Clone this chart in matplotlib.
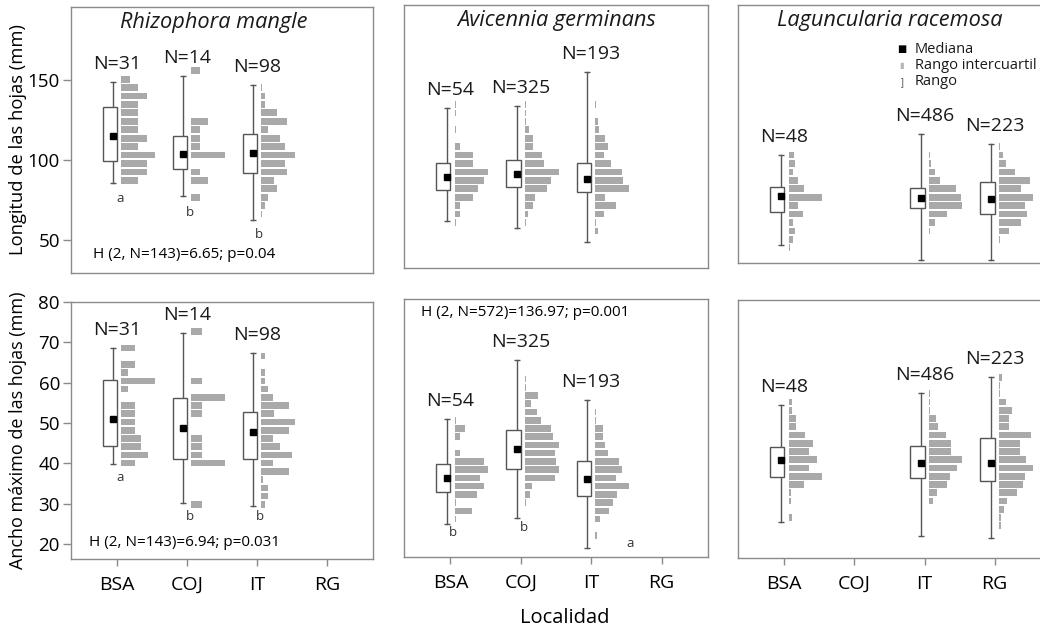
import matplotlib.pyplot as plt
from matplotlib.patches import Rectangle

plt.rcParams['font.family'] = ['Open Sans', 'DejaVu Sans']

localidades = ['BSA', 'COJ', 'IT', 'RG']

# cajas: [mínimo, Q1, mediana, Q3, máximo]; frecuencias en % del bin mayor,
# bins ordenados de arriba hacia abajo a partir del centro bin0

# --- Longitud de las hojas (mm) ---
ancho_long = 5.27

rm_long_loc = ['BSA', 'COJ', 'IT']
rm_long_n = [31, 14, 98]
rm_long_letras = ['a', 'b', 'b']
rm_long_bin0 = 155.8
rm_long_cajas = [[85.8, 99.6, 115.0, 132.9, 148.9],
                 [77.5, 94.4, 103.8, 115.2, 152.7],
                 [62.3, 91.7, 104.2, 116.25, 146.9]]
rm_long_frec = [[0, 25, 50, 75, 50, 50, 50, 50, 75, 50, 100, 75, 75, 50],
                [25, 0, 0, 0, 0, 0, 50, 25, 25, 25, 100, 0, 25, 50, 0, 25],
                [0, 0, 3, 10, 10, 48, 77, 19, 56, 71, 100, 71, 77, 38, 48, 19, 10, 3]]

ag_long_loc = ['BSA', 'COJ', 'IT']
ag_long_n = [54, 325, 193]
ag_long_bin0 = 155.8
ag_long_cajas = [[62.0, 81.25, 89.6, 97.9, 132.7],
                 [57.7, 82.9, 91.25, 100.0, 133.75],
                 [49.0, 80.2, 88.0, 97.9, 154.8]]
ag_long_frec = [[0, 0, 0, 0, 3, 3, 0, 3, 0, 15, 55, 55, 100, 87, 68, 55, 15, 15, 3],
                [0, 0, 0, 0, 3, 3, 3, 13, 23, 23, 49, 56, 100, 76, 66, 29, 25, 8, 3],
                [0, 0, 0, 0, 3, 0, 7, 10, 29, 36, 25, 46, 78, 81, 100, 29, 61, 26, 3, 7]]

lr_long_loc = ['BSA', 'IT', 'RG']
lr_long_n = [48, 486, 223]
lr_long_bin0 = 155.8
lr_long_cajas = [[46.9, 67.3, 77.5, 82.9, 103.1],
                 [37.5, 69.8, 76.0, 82.3, 116.25],
                 [37.5, 66.0, 75.6, 86.4, 110.0]]
lr_long_frec = [[0] * 10 + [15, 19, 13, 29, 45, 100, 29, 44, 13, 19, 13, 5],
                [0] * 10 + [3, 7, 17, 34, 80, 97, 100, 55, 19, 3],
                [0] * 9 + [3, 11, 21, 48, 91, 65, 100, 77, 84, 67, 31, 3]]

# --- Ancho máximo de las hojas (mm) ---
ancho_anch = 2.04

rm_anch_loc = ['BSA', 'COJ', 'IT']
rm_anch_n = [31, 14, 98]
rm_anch_letras = ['a', 'b', 'b']
rm_anch_bin0 = 72.7
rm_anch_cajas = [[39.8, 44.3, 50.9, 60.6, 68.6],
                 [30.2, 41.05, 48.8, 56.1, 72.4],
                 [29.5, 41.05, 47.7, 52.8, 67.4]]
rm_anch_frec = [[0, 0, 40, 0, 40, 20, 100, 20, 0, 40, 40, 40, 40, 60, 60, 80, 40],
                [33, 0, 0, 0, 0, 0, 33, 0, 100, 33, 33, 0, 0, 33, 33, 33, 100, 0, 0, 0, 0, 33],
                [0, 0, 0, 12, 0, 10, 10, 20, 35, 83, 37, 100, 83, 35, 55, 92, 35, 83, 5, 20, 20, 12]]

ag_anch_loc = ['BSA', 'COJ', 'IT']
ag_anch_n = [54, 325, 193]
ag_anch_letras = ['b', 'b', 'a']
ag_anch_bin0 = 69.03
ag_anch_cajas = [[25.0, 33.0, 36.4, 39.75, 50.9],
                 [26.4, 38.6, 43.5, 48.2, 65.6],
                 [19.0, 31.9, 36.0, 40.6, 55.7]]
ag_anch_frec = [[0] * 9 + [3, 30, 16, 0, 16, 88, 100, 75, 88, 65, 5, 51, 3],
                [0] * 4 + [3, 3, 37, 18, 35, 48, 77, 82, 100, 88, 92, 100, 90, 20, 15, 3],
                [0] * 8 + [3, 3, 22, 22, 28, 38, 70, 80, 60, 100, 65, 53, 41, 13, 0, 5]]

lr_anch_loc = ['BSA', 'IT', 'RG']
lr_anch_n = [48, 486, 223]
lr_anch_bin0 = 69.45
lr_anch_cajas = [[25.5, 36.7, 40.8, 44.1, 54.4],
                 [22.1, 36.5, 40.15, 44.3, 57.3],
                 [21.6, 35.7, 40.15, 46.3, 61.3]]
lr_anch_frec = [[0] * 7 + [10, 10, 23, 23, 48, 73, 61, 86, 61, 100, 47, 8, 8, 0, 10],
                [0] * 6 + [3, 3, 3, 20, 27, 52, 67, 67, 100, 84, 64, 54, 23, 13],
                [0] * 4 + [10, 3, 3, 20, 39, 30, 30, 96, 62, 62, 80, 100, 77, 72, 55, 23, 16, 5, 5]]

W, H = 1040, 629
fig = plt.figure(figsize=(W / 100, H / 100), dpi=100)
gris = '#8a8a8a'


def eje(x0, y0, x1, y1, ylim):
    ax = fig.add_axes([x0 / W, 1 - y1 / H, (x1 - x0) / W, (y1 - y0) / H])
    ax.set_xlim(-0.66, 3.66)
    ax.set_ylim(*ylim)
    for s in ax.spines.values():
        s.set_color(gris)
        s.set_linewidth(1.0)
    ax.set_xticks([])
    ax.set_yticks([])
    return ax


def dibujar(ax, locs, cajas, frec, bin0, ancho, n):
    for j, loc in enumerate(locs):
        x = localidades.index(loc)
        mn, q1, med, q3, mx = cajas[j]
        f = frec[j]
        ys = [bin0 - k * ancho for k in range(len(f))]
        largos = [v / max(f) * 0.48 for v in f]
        ax.barh(ys, largos, height=ancho * 0.8, left=x + 0.06, color='#a9a9a9', lw=0)
        xb = x - 0.053
        ax.plot([xb, xb], [mn, mx], color='#555555', lw=1.0, zorder=2)
        ax.plot([xb, xb], [mn, mx], ls='none', marker='_', ms=4, mew=1.0, color='#555555', zorder=2)
        ax.add_patch(Rectangle((x - 0.205, q1), 0.205, q3 - q1, fc='white', ec='#555555', lw=1.0, zorder=3))
        ax.plot([xb], [med], marker='s', ms=5, color='black', ls='none', zorder=4)
        ax.annotate(f'N={n[j]}', (x, mx), xytext=(0, 13), textcoords='offset points',
                    ha='center', va='center', fontsize=14, color='#1a1a1a')


def letras(ax, locs, cajas, let, despl):
    for j, loc in enumerate(locs):
        x = localidades.index(loc)
        dx, dy = despl[j]
        ax.annotate(let[j], (x + dx, cajas[j][0]), xytext=(0, dy), textcoords='offset points',
                    ha='center', va='center', fontsize=9.5, color='#333333')


# fila superior: longitud
ax1 = eje(71, 7, 373, 273, (29.4, 195.6))
ax2 = eje(404, 5, 708, 268, (32.5, 196.9))
ax3 = eje(738, 5, 1041, 263, (35.6, 196.9))
# fila inferior: ancho
ax4 = eje(71, 302, 373, 559, (16.3, 79.9))
ax5 = eje(404, 299, 708, 557, (16.8, 80.7))
ax6 = eje(738, 300, 1041, 558, (16.6, 80.4))

dibujar(ax1, rm_long_loc, rm_long_cajas, rm_long_frec, rm_long_bin0, ancho_long, rm_long_n)
dibujar(ax2, ag_long_loc, ag_long_cajas, ag_long_frec, ag_long_bin0, ancho_long, ag_long_n)
dibujar(ax3, lr_long_loc, lr_long_cajas, lr_long_frec, lr_long_bin0, ancho_long, lr_long_n)
dibujar(ax4, rm_anch_loc, rm_anch_cajas, rm_anch_frec, rm_anch_bin0, ancho_anch, rm_anch_n)
dibujar(ax5, ag_anch_loc, ag_anch_cajas, ag_anch_frec, ag_anch_bin0, ancho_anch, ag_anch_n)
dibujar(ax6, lr_anch_loc, lr_anch_cajas, lr_anch_frec, lr_anch_bin0, ancho_anch, lr_anch_n)

letras(ax1, rm_long_loc, rm_long_cajas, rm_long_letras, [(0.04, -11), (0.04, -12), (0.03, -10)])
letras(ax4, rm_anch_loc, rm_anch_cajas, rm_anch_letras, [(0.04, -9.5), (0.04, -10), (0.04, -8)])
letras(ax5, ag_anch_loc, ag_anch_cajas, ag_anch_letras, [(0.03, -6), (0.04, -7), (0.55, 3)])

# títulos de especie
for ax, titulo, xt in [(ax1, 'Rhizophora mangle', 0.473), (ax2, 'Avicennia germinans', 0.503),
                       (ax3, 'Laguncularia racemosa', 0.502)]:
    ax.text(xt, 0.94, titulo, transform=ax.transAxes, ha='center', va='center',
            fontsize=15.7, style='italic', color='#1a1a1a')

# estadísticos Kruskal-Wallis
ax1.text(0.073, 0.068, 'H (2, N=143)=6.65; p=0.04', transform=ax1.transAxes, va='center', fontsize=11)
ax4.text(0.06, 0.066, 'H (2, N=143)=6.94; p=0.031', transform=ax4.transAxes, va='center', fontsize=11)
ax5.text(0.056, 0.946, 'H (2, N=572)=136.97; p=0.001', transform=ax5.transAxes, va='center', fontsize=11)

# leyenda
ley = [('■', 'black', 7, 'Mediana'), ('▮', '#b5b5b5', 6, 'Rango intercuartil'), (']', '#666666', 7.5, 'Rango')]
for (sim, col, tam, txt), yy in zip(ley, [0.828, 0.764, 0.703]):
    ax3.text(0.54, yy, sim, transform=ax3.transAxes, ha='center', va='center', color=col,
             fontsize=tam, family=['DejaVu Sans'])
    ax3.text(0.584, yy, txt, transform=ax3.transAxes, va='center', fontsize=10.5, color='#1a1a1a')

# ejes
ax1.set_yticks([50, 100, 150])
ax4.set_yticks([20, 30, 40, 50, 60, 70, 80])
for ax in (ax1, ax4):
    ax.tick_params(axis='y', length=6, width=1, color=gris, pad=2, labelsize=13.5)
for ax in (ax4, ax5, ax6):
    ax.set_xticks(range(len(localidades)))
    ax.set_xticklabels(localidades)
    ax.tick_params(axis='x', length=5, width=1, color=gris, pad=7, labelsize=14)

fig.text(18 / W, 1 - 140 / H, 'Longitud de las hojas (mm)', rotation=90, ha='center', va='center', fontsize=13.2)
fig.text(18 / W, 1 - 430 / H, 'Ancho máximo de las hojas (mm)', rotation=90, ha='center', va='center', fontsize=13)
fig.text(565 / W, 1 - 618 / H, 'Localidad', ha='center', va='center', fontsize=14.5)

fig.savefig('out.png', dpi=100)
